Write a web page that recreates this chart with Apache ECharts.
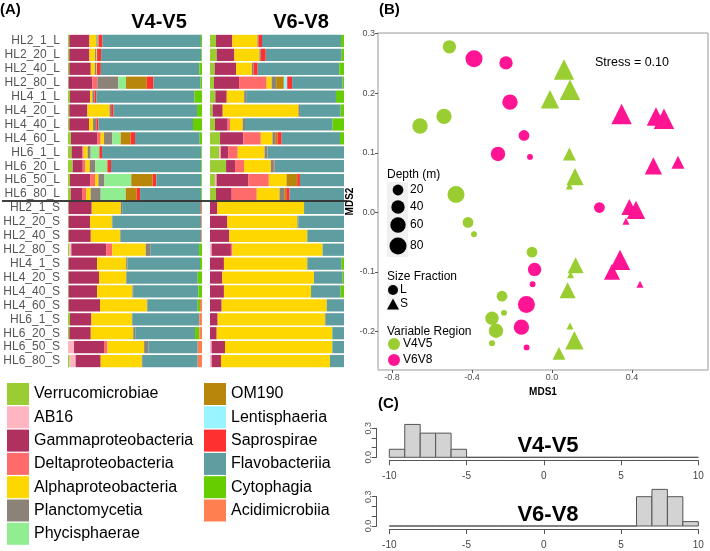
<!DOCTYPE html>
<html><head><meta charset="utf-8">
<script src="https://cdn.jsdelivr.net/npm/echarts@6/dist/echarts.min.js"></script>
<style>html,body{margin:0;padding:0;background:#fff}#c{width:710px;height:551px}</style>
</head><body><div id="c"></div>
<script>
const FONT = '"Liberation Sans", Arial, sans-serif';

// ---------- Panel A: community composition ----------
const samples = ['HL2_1_L','HL2_20_L','HL2_40_L','HL2_80_L','HL4_1_L','HL4_20_L','HL4_40_L','HL4_60_L','HL6_1_L','HL6_20_L','HL6_50_L','HL6_80_L',
  'HL2_1_S','HL2_20_S','HL2_40_S','HL2_80_S','HL4_1_S','HL4_20_S','HL4_40_S','HL4_60_S','HL6_1_S','HL6_20_S','HL6_50_S','HL6_80_S'];
const taxa = ['Verrucomicrobiae','AB16','Gammaproteobacteria','Deltaproteobacteria','Alphaproteobacteria','Planctomycetia','Phycisphaerae',
  'OM190','Lentisphaeria','Saprospirae','Flavobacteriia','Cytophagia','Acidimicrobiia'];
const taxaColors = ['#9ACD32','#FFB6C1','#B03060','#FF6A6A','#FFD700','#8B8378','#90EE90','#B8860B','#98F5FF','#FF3030','#5F9EA0','#66CD00','#FF7F50'];

// percent per sample (rows) in taxa order
const v45Composition = [
  [1,0,15,0,5.2,1,0.5,0,0,3,73.5,0.8,0],
  [1,0,15,0,4.2,1,0.5,0,0,3,74.8,0.5,0],
  [1,0,16,0,3,1,0.5,0,0,3,73.5,2,0],
  [0.5,0,17.7,3.7,0,15.7,5.7,15.5,0,5,35.2,1,0],
  [1.5,0,15,0,1.7,1.5,0,0,0,1.5,73.1,5.7,0],
  [1,0,13.5,0,16.5,1.2,0,0,0,1.8,62.3,3.7,0],
  [1,0,14.7,0,3,2.5,0,0,0,1.5,70.6,6.7,0],
  [2.2,0,19.5,2.7,2.5,6.2,6.2,7.5,0,3.2,48.3,1.7,0],
  [2.7,0,8,1,3,2.2,6.5,0,0,2,74.1,0.5,0],
  [3.5,0,7.5,2,3.2,4.2,9,0,0,2.7,67.4,0.5,0],
  [1.5,0,15,3.7,2.5,4.5,20,16,0,2.7,33.6,0.5,0],
  [2,0,8.5,3.2,3.2,7.5,18.7,8.2,0,2.5,45.7,0.5,0],
  [0.5,0,17.2,0,21.7,1,0,0,0,0,58.8,0,0.8],
  [0.5,0,16,0,16.2,0.5,0,0,0,0,66.3,0,0.5],
  [0.5,0,16.5,0,22,0.5,0,0,0,0,60,0,0.5],
  [1,1.5,26,4.5,25,3.7,0,0,0,0,36.1,2.2,0],
  [0.5,0,21.2,0,21.7,1,0,0,0,0,54.1,1.5,0],
  [0.5,0,22.7,0,20.2,0.5,0,0,0,0,52.9,3.2,0],
  [0.5,0,21.2,0,26.4,0.5,0,0,0,0,48.7,2.7,0],
  [0.5,0,23.4,0,35,0.5,0,0,0,0,37.4,1.7,1.5],
  [1.5,0,16,0,30.2,0.5,0,0,0,0,49.8,0,2],
  [1,0,16,0,31.7,1.5,0,0,0,0,44.6,3.2,2],
  [0,4.5,22.4,2.5,27.4,3.2,0,0,0,0,36.8,0,3.2],
  [1.2,4.5,18.7,0,30.7,0.7,0,0,0,0,41,0,3.2]
];
const v68Composition = [
  [4.5,0,12.2,0,18.7,0.7,0,0,0,2.7,59,2.2,0],
  [5,0,13.2,0,18.7,1,0,0,0,3.7,56.7,1.7,0],
  [3.5,0,16,0,11.7,1.2,0,0,0,3.2,60.9,3.5,0],
  [3,0,18.7,20.6,3.7,3.4,0,5.7,2.5,3.7,37.7,1,0],
  [4,0,8.5,0,13,1.5,0,0,0,0,67,6,0],
  [2,0,7.5,0,56.5,1.2,0,0,0,0,30.3,2.5,0],
  [3.7,0,9.5,1.7,9.5,1.7,0,0,0,0,65.4,8.5,0],
  [7.5,0,17.4,13,8.7,2,0,1.7,0,3.2,43.5,3,0],
  [7,1,5.7,7,20,2.2,0,0,0,0,57.1,0,0],
  [12,0,6.7,6.7,20,2.2,0,0,0,0.5,51.9,0,0],
  [3.7,1.2,23.6,15.4,13.2,0,0,8,0,2,32.9,0,0],
  [4.5,0,11.7,18.7,17,3.5,0,1.5,0,2.5,40.6,0,0],
  [0,0,5.5,0,64.7,0,0,0,0,0,29.8,0,0],
  [0,0,13,0,52.2,0.7,0,0,0,0,34.1,0,0],
  [0,0,14.4,0,58.2,0,0,0,0,0,27.4,0,0],
  [0,1.2,14.4,1.2,67.2,0,0,0,0,0,16,0,0],
  [0,0,10.4,0,62.2,0,0,0,0,0,25.7,1.7,0],
  [0,0,9.2,0,68.4,0,0,0,0,0,21.4,1,0],
  [0,0,10.4,0,65,0,0,0,0,0,22.1,2.5,0],
  [0,0,8.7,0,78.4,0,0,0,0,0,12.9,0,0],
  [0,0,5.7,0,80.1,0.5,0,0,0,0,13.7,0,0],
  [0,0,5,0,86.3,0,0,0,0,0,8.7,0,0],
  [0,1.2,10,0,80.1,0,0,0,0,0,8.7,0,0],
  [0,1.2,7,0,81.3,0,0,0,0,0,10.5,0,0]
];

// ---------- Panel B: NMDS points [MDS1, MDS2, depth m] ----------
const v4v5L = [[-0.513,0.278,40],[-0.54,0.161,60],[-0.66,0.145,60],[-0.48,0.030,80],[-0.42,-0.017,20],[-0.39,-0.037,1],
  [-0.10,-0.067,20],[-0.25,-0.141,20],[-0.24,-0.169,1],[-0.30,-0.178,40],[-0.28,-0.199,50],[-0.30,-0.220,1]];
const v6v8L = [[-0.39,0.258,80],[-0.23,0.251,40],[-0.21,0.185,60],[-0.14,0.129,20],[-0.27,0.098,50],[-0.11,0.093,1],
  [0.237,0.008,20],[-0.087,-0.096,40],[-0.097,-0.121,1],[-0.128,-0.155,80],[-0.153,-0.193,60],[-0.127,-0.227,1]];
const v4v5S = [[0.06,0.240,80],[0.09,0.206,80],[-0.01,0.190,60],[0.087,0.098,20],[0.115,0.060,50],[0.087,0.044,1],
  [0.118,-0.089,40],[0.093,-0.105,1],[0.078,-0.131,40],[0.09,-0.191,1],[0.112,-0.215,60],[0.035,-0.237,20]];
const v6v8S = [[0.348,0.165,80],[0.52,0.161,60],[0.56,0.157,80],[0.507,0.078,50],[0.63,0.084,20],[0.387,0.009,40],
  [0.42,0.004,60],[0.37,-0.015,1],[0.34,-0.080,80],[0.30,-0.100,40],[0.44,-0.121,1]];
const depthLegend = [20,40,60,80];
const stressLabel = 'Stress = 0.10';

// ---------- Panel C: histograms ----------
const histBreaks = [-10,-9,-8,-7,-6,-5,-4,-3,-2,-1,0,1,2,3,4,5,6,7,8,9,10];
const histV45 = [0.083,0.34,0.25,0.25,0.083,0,0,0,0,0,0,0,0,0,0,0,0,0,0,0];
const histV68 = [0,0,0,0,0,0,0,0,0,0,0,0,0,0,0,0,0.3,0.375,0.3,0.045];

const GREEN = '#9ACD32', PINK = '#FF1493';
const depthSize = d => 4.5 + 1.4 * Math.sqrt(d);

const chart = echarts.init(document.getElementById('c'), null, {renderer: 'canvas'});

const barSeries = [];
[v45Composition, v68Composition].forEach((comp, gi) => {
  taxa.forEach((t, ti) => {
    barSeries.push({
      type: 'bar', name: t, stack: 'r' + gi, xAxisIndex: gi, yAxisIndex: gi,
      data: comp.map(r => r[ti]), barCategoryGap: '12%',
      itemStyle: {color: taxaColors[ti]}, emphasis: {disabled: true}, animation: false
    });
  });
});

const histItem = (params, api) => {
  const p0 = api.coord([api.value(0), api.value(2)]);
  const p1 = api.coord([api.value(1), 0]);
  return {type: 'rect', shape: {x: p0[0], y: p0[1], width: p1[0] - p0[0], height: p1[1] - p0[1]},
    style: {fill: '#D3D3D3', stroke: '#555', lineWidth: 1}};
};
const histData = vals => vals.map((v, i) => [histBreaks[i], histBreaks[i + 1], v]);

const histX = (i) => ({gridIndex: i, type: 'value', min: histBreaks[0], max: histBreaks[histBreaks.length - 1], interval: 5, offset: 3,
  axisLine: {onZero: false, lineStyle: {color: '#555'}}, axisTick: {length: 5, lineStyle: {color: '#555'}},
  axisLabel: {fontSize: 10, color: '#444', margin: 11, fontFamily: FONT}, splitLine: {show: false}});
const histY = (i) => ({gridIndex: i, type: 'value', min: 0, max: 0.3, interval: 0.1, offset: 12.6,
  axisLine: {show: true, onZero: false, lineStyle: {color: '#555'}}, axisTick: {show: true, length: 5, lineStyle: {color: '#555'}},
  axisLabel: {customValues: [0, 0.3], rotate: 90, fontSize: 9, color: '#555', margin: 4, fontFamily: FONT, formatter: v => v.toFixed(1)},
  splitLine: {show: false}});

const scatterSeries = (name, data, color, symbol, k) => ({
  type: 'scatter', name, data, xAxisIndex: 2, yAxisIndex: 2, symbol,
  symbolSize: v => depthSize(v[2]) * k, itemStyle: {color, opacity: 1}, emphasis: {disabled: true}, animation: false
});

chart.setOption({
  animation: false,
  textStyle: {fontFamily: FONT},
  grid: [
    {left: 68, top: 34, width: 134, height: 334},
    {left: 210, top: 34, width: 134, height: 334},
    {left: 378, top: 33, width: 330, height: 337, show: true, borderColor: '#999', borderWidth: 1},
    {left: 389.3, top: 428.3, width: 309, height: 29},
    {left: 389.3, top: 496.7, width: 309, height: 29.3}
  ],
  xAxis: [
    {gridIndex: 0, type: 'value', min: 0, max: 100, show: false},
    {gridIndex: 1, type: 'value', min: 0, max: 100, show: false},
    {gridIndex: 2, type: 'value', min: -0.87, max: 0.78, name: 'MDS1', nameLocation: 'middle', nameGap: 16,
      nameTextStyle: {fontWeight: 'bold', fontSize: 10, color: '#000', fontFamily: FONT},
      axisLine: {show: false, onZero: false}, splitLine: {show: false},
      axisTick: {show: true, customValues: [-0.8, -0.4, 0, 0.4], length: 3, lineStyle: {color: '#555'}},
      axisLabel: {customValues: [-0.8, -0.4, 0, 0.4], fontSize: 9, color: '#4d4d4d', margin: 3, formatter: v => v.toFixed(1), fontFamily: FONT}},
    histX(3), histX(4)
  ],
  yAxis: [
    {gridIndex: 0, type: 'category', data: samples, inverse: true, axisLine: {show: false}, axisTick: {show: false},
      axisLabel: {interval: 0, fontSize: 12, color: '#555', margin: 8, fontFamily: FONT}},
    {gridIndex: 1, type: 'category', data: samples, inverse: true, show: false},
    {gridIndex: 2, type: 'value', min: -0.265, max: 0.3012, name: 'MDS2', nameLocation: 'middle', nameGap: 22, nameRotate: 90,
      nameTextStyle: {fontWeight: 'bold', fontSize: 10, color: '#000', fontFamily: FONT},
      axisLine: {show: false, onZero: false}, splitLine: {show: false},
      axisTick: {show: true, customValues: [-0.2, -0.1, 0, 0.1, 0.2, 0.3], length: 3, lineStyle: {color: '#555'}},
      axisLabel: {customValues: [-0.2, -0.1, 0, 0.1, 0.2, 0.3], fontSize: 9, color: '#4d4d4d', margin: 3, formatter: v => v.toFixed(1), fontFamily: FONT}},
    histY(3), histY(4)
  ],
  legend: [
    {data: taxa.slice(0, 7), orient: 'vertical', left: 7, top: 383, itemWidth: 22, itemHeight: 22, itemGap: 1.3, icon: 'rect',
      selectedMode: false, textStyle: {fontSize: 16, color: '#000', fontFamily: FONT, lineHeight: 22}, padding: 0},
    {data: taxa.slice(7), orient: 'vertical', left: 204, top: 383, itemWidth: 22, itemHeight: 22, itemGap: 1.3, icon: 'rect',
      selectedMode: false, textStyle: {fontSize: 16, color: '#000', fontFamily: FONT, lineHeight: 22}, padding: 0}
  ],
  series: [
    ...barSeries,
    scatterSeries('V4V5 L', v4v5L, GREEN, 'circle', 1),
    scatterSeries('V6V8 L', v6v8L, PINK, 'circle', 1),
    scatterSeries('V4V5 S', v4v5S, GREEN, 'triangle', 1.2),
    scatterSeries('V6V8 S', v6v8S, PINK, 'triangle', 1.2),
    {type: 'custom', xAxisIndex: 3, yAxisIndex: 3, renderItem: histItem, data: histData(histV45), encode: {x: [0, 1], y: 2}, clip: false, silent: true},
    {type: 'custom', xAxisIndex: 4, yAxisIndex: 4, renderItem: histItem, data: histData(histV68), encode: {x: [0, 1], y: 2}, clip: false, silent: true}
  ]
});

// ----- annotations (positioned through the chart's own scales where data-related) -----
const yA = chart.convertToPixel({yAxisIndex: 0}, samples[11]);
const yB = chart.convertToPixel({yAxisIndex: 0}, samples[12]);
const splitY = (yA + yB) / 2;
const stressPt = chart.convertToPixel({gridIndex: 2}, [0.40, 0.251]);

const txt = (text, x, y, font, align, fill) => ({type: 'text', x, y, z: 100,
  style: {text, font, fill: fill || '#000', align: align || 'left', verticalAlign: 'middle'}});
const boldFont = (s) => 'bold ' + s + 'px ' + FONT;
const normFont = (s) => s + 'px ' + FONT;

const graphics = [
  {type: 'line', z: 100, shape: {x1: 2, y1: splitY, x2: 347, y2: splitY}, style: {stroke: '#000', lineWidth: 1.5}},
  txt('(A)', 0, 10, boldFont(15)),
  txt('(B)', 379, 10, boldFont(15)),
  txt('(C)', 378, 404, boldFont(15)),
  txt('V4-V5', 159, 22, boldFont(20), 'center'),
  txt('V6-V8', 301, 22, boldFont(20), 'center'),
  txt(stressLabel, stressPt[0], stressPt[1], normFont(12.5), 'center'),
  txt('V4-V5', 548, 446, boldFont(22), 'center'),
  txt('V6-V8', 548, 515, boldFont(22), 'center'),
  // NMDS legend
  txt('Depth (m)', 387, 175, normFont(12)),
  {type: 'rect', z: 90, shape: {x: 387, y: 182, width: 21, height: 75}, style: {fill: '#F0F0F0'}},
  txt('Size Fraction', 387, 277, normFont(12)),
  {type: 'rect', z: 90, shape: {x: 387, y: 283, width: 13, height: 28}, style: {fill: '#F5F5F5'}},
  {type: 'circle', z: 100, shape: {cx: 393, cy: 290, r: 5}, style: {fill: '#000'}},
  txt('L', 400, 290, normFont(12)),
  {type: 'polygon', z: 100, shape: {points: [[387, 309.5], [399, 309.5], [393, 298.5]]}, style: {fill: '#000'}},
  txt('S', 400, 304, normFont(12)),
  txt('Variable Region', 387, 332, normFont(12)),
  {type: 'circle', z: 100, shape: {cx: 394, cy: 344, r: 6}, style: {fill: GREEN}},
  txt('V4V5', 403, 344, normFont(12)),
  {type: 'circle', z: 100, shape: {cx: 394, cy: 360, r: 6}, style: {fill: PINK}},
  txt('V6V8', 403, 360, normFont(12))
];
const depthY = [190, 207, 225, 246];
depthLegend.forEach((d, i) => {
  graphics.push({type: 'circle', z: 100, shape: {cx: 398, cy: depthY[i], r: depthSize(d) / 2}, style: {fill: '#000'}});
  graphics.push(txt(String(d), 410, depthY[i], normFont(12)));
});
chart.setOption({graphic: graphics});
</script></body></html>
